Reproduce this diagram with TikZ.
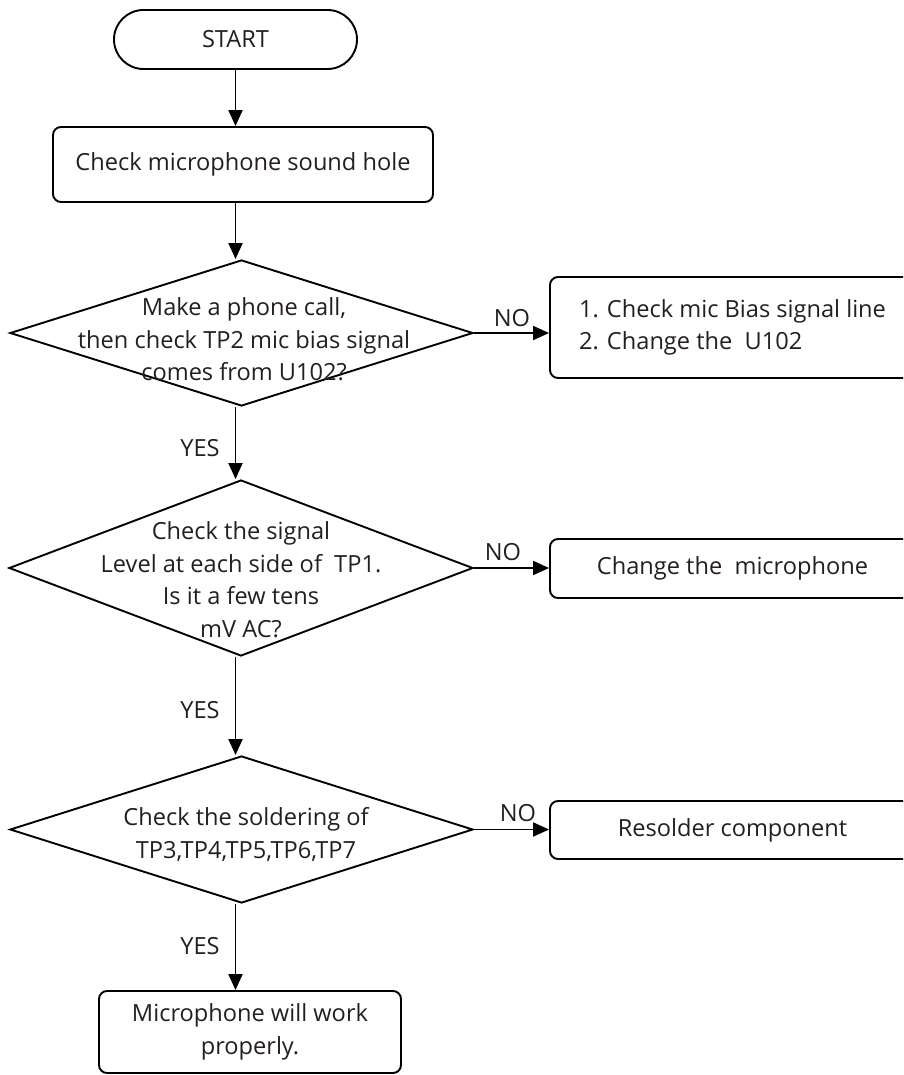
\documentclass[tikz,border=0pt]{standalone}
\usepackage{fontspec}
\setmainfont{Open Sans}
\usetikzlibrary{arrows.meta,shapes.geometric,calc}
\definecolor{txt}{RGB}{35,31,32}
\begin{document}
\begin{tikzpicture}[x=1pt,y=-1pt,
  every node/.style={font=\fontsize{23.6pt}{32.5pt}\selectfont, text=txt},
  box/.style={draw=black, line width=1.9pt, rounded corners=8pt, inner sep=0pt, align=center},
  dia/.style={draw=black, shape=diamond, line width=1.9pt, inner sep=0pt},
  lbl/.style={inner sep=0pt, align=center},
  arr/.style={draw=black, line width=1.9pt, -{Triangle[length=16pt,width=14pt]}}
]
\useasboundingbox (0,0) rectangle (903,1075);
\clip (0,0) rectangle (903,1075);

% nodes
\node[box, rounded corners=29.5pt, minimum width=243pt, minimum height=59pt] (start) at (235.5,39.5) {START};
\node[box, minimum width=380pt, minimum height=75pt] (b1) at (243,164.5) {Check microphone sound hole};

\node[dia, minimum width=463pt, minimum height=146pt] (d1) at (241.5,333) {};
\node[lbl] (d1t) at (244,339.5) {Make a phone call,\\then check TP2 mic bias signal\\comes from U102?};
\node[box, align=left, minimum width=365pt, minimum height=101pt] (r1) at (732.5,327.5) {1. Check mic Bias signal line\\2. Change the \ U102};

\node[dia, minimum width=464pt, minimum height=176pt] (d2) at (241,568) {};
\node[lbl] (d2t) at (241,579.5) {Check the signal\\Level at each side of \ TP1.\\Is it a few tens\\mV AC?};
\node[box, minimum width=365pt, minimum height=59pt] (r2) at (732.5,568.5) {Change the \ microphone};

\node[dia, minimum width=463pt, minimum height=147pt] (d3) at (241.5,829.5) {};
\node[lbl] (d3t) at (246,834.5) {Check the soldering of\\TP3,TP4,TP5,TP6,TP7};
\node[box, minimum width=365pt, minimum height=58pt] (r3) at (732.5,830) {Resolder component};

\node[box, minimum width=302pt, minimum height=82pt] (end) at (250,1032) {Microphone will work\\properly.};

% labels
\node[lbl] (no1) at (512,318) {NO};
\node[lbl] (no2) at (503,552) {NO};
\node[lbl] (no3) at (518,813) {NO};
\node[lbl] (yes1) at (200,448) {YES};
\node[lbl] (yes2) at (200,710) {YES};
\node[lbl] (yes3) at (200,946) {YES};

% connectors
\draw[arr] (start.south) -- (start.south |- b1.north);
\draw[arr] (start.south |- b1.south) -- (start.south |- d1.north);
\draw[arr] (start.south |- d1.south) -- (start.south |- d2.north);
\draw[arr] (start.south |- d2.south) -- (start.south |- d3.north);
\draw[arr] (start.south |- d3.south) -- (start.south |- end.north);
\draw[arr] (d1.east) -- (d1.east -| r1.west);
\draw[arr] (d2.east) -- (d2.east -| r2.west);
\draw[arr] (d3.east) -- (d3.east -| r3.west);
\end{tikzpicture}
\end{document}
